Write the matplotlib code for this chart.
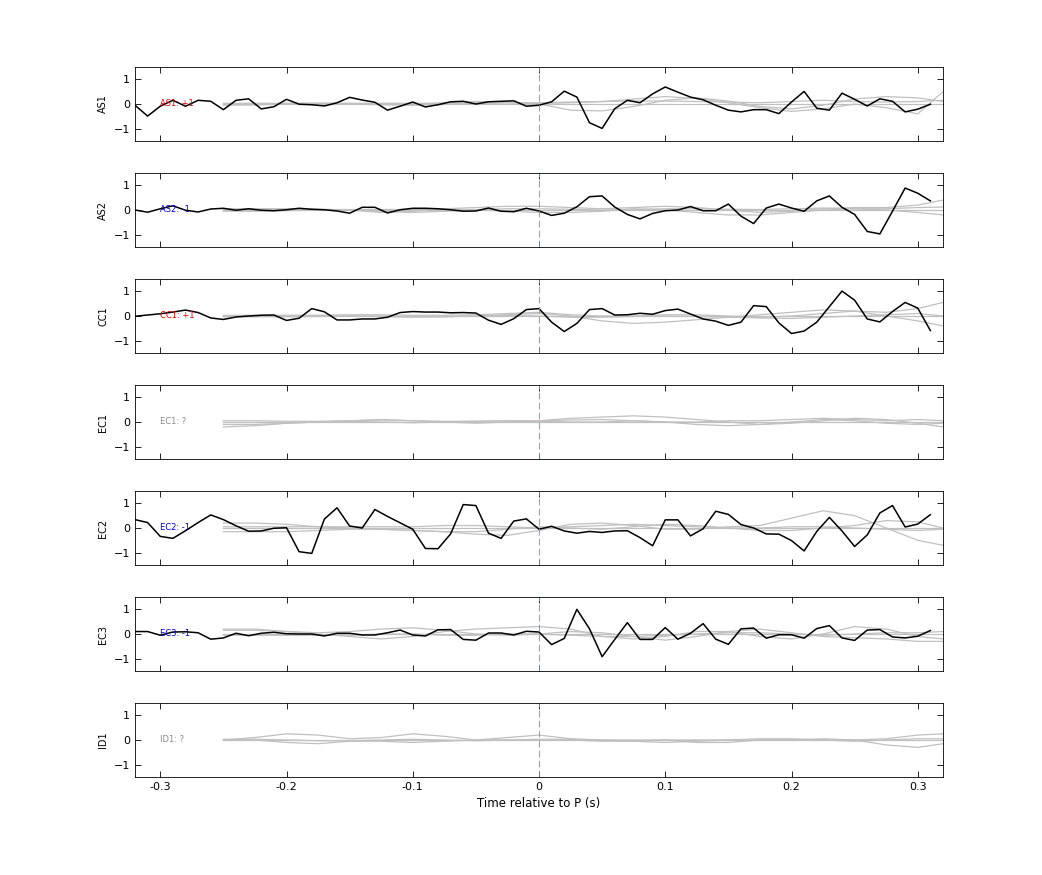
import numpy as np
import matplotlib

matplotlib.use("Agg")
import matplotlib.pyplot as plt

stations = ["AS1", "AS2", "CC1", "EC1", "EC2", "EC3", "ID1"]
polarity = ["+1", "-1", "+1", "?", "-1", "-1", "?"]
label_colors = ["#dd0000", "#0000cc", "#dd0000", "#888888", "#0000cc", "#0000cc", "#888888"]

# black traces, one sample every 0.01 s from -0.32 to 0.31
t_black = np.round(np.arange(-0.32, 0.315, 0.01), 3)
black = {
    "AS1": [-0.05, -0.49, -0.09, 0.15, -0.09, 0.15, 0.11, -0.23, 0.15, 0.21,
            -0.2, -0.11, 0.19, -0.01, -0.03, -0.08, 0.05, 0.27, 0.16, 0.07,
            -0.25, -0.09, 0.08, -0.12, -0.03, 0.09, 0.11, 0.0, 0.09, 0.11,
            0.13, -0.09, -0.05, 0.09, 0.52, 0.28, -0.76, -0.99, -0.19, 0.15,
            0.05, 0.41, 0.69, 0.48, 0.28, 0.17, -0.05, -0.25, -0.32, -0.23,
            -0.23, -0.39, 0.08, 0.51, -0.17, -0.25, 0.44, 0.19, -0.08, 0.21,
            0.11, -0.32, -0.21, -0.01],
    "AS2": [0.0, -0.09, 0.05, 0.17, -0.01, -0.08, 0.04, 0.07, -0.01, 0.05,
            -0.01, -0.03, 0.01, 0.07, 0.03, 0.01, -0.04, -0.13, 0.11, 0.11,
            -0.12, 0.01, 0.07, 0.07, 0.05, 0.01, -0.05, -0.04, 0.08, -0.05,
            -0.07, 0.07, -0.04, -0.22, -0.13, 0.13, 0.54, 0.57, 0.12, -0.18,
            -0.36, -0.14, -0.03, 0.0, 0.14, -0.03, -0.03, 0.24, -0.25, -0.55,
            0.08, 0.24, 0.08, -0.05, 0.37, 0.57, 0.11, -0.18, -0.87, -0.97,
            -0.05, 0.89, 0.68, 0.37],
    "CC1": [-0.01, 0.04, 0.09, 0.16, 0.24, 0.14, -0.08, -0.14, -0.04, 0.0,
            0.03, 0.04, -0.18, -0.09, 0.3, 0.17, -0.16, -0.16, -0.12, -0.12,
            -0.05, 0.14, 0.18, 0.16, 0.16, 0.13, 0.14, 0.12, -0.17, -0.34,
            -0.11, 0.26, 0.3, -0.25, -0.63, -0.3, 0.26, 0.3, 0.04, 0.05,
            0.11, 0.07, 0.22, 0.28, 0.08, -0.12, -0.21, -0.38, -0.25, 0.42,
            0.38, -0.28, -0.71, -0.61, -0.25, 0.38, 1.01, 0.64, -0.12, -0.24,
            0.18, 0.55, 0.32, -0.59],
    "EC2": [0.34, 0.22, -0.34, -0.42, -0.11, 0.22, 0.53, 0.34, 0.09, -0.13,
            -0.12, -0.01, 0.01, -0.96, -1.03, 0.36, 0.82, 0.08, 0.0, 0.75,
            0.47, 0.21, -0.05, -0.83, -0.84, -0.24, 0.95, 0.91, -0.21, -0.42,
            0.28, 0.37, -0.05, 0.07, -0.12, -0.21, -0.14, -0.18, -0.12, -0.11,
            -0.39, -0.72, 0.33, 0.33, -0.32, -0.03, 0.68, 0.55, 0.14, 0.0,
            -0.24, -0.25, -0.51, -0.93, -0.14, 0.43, -0.12, -0.75, -0.28, 0.61,
            0.91, 0.04, 0.16, 0.54],
    "EC3": [0.1, 0.1, -0.05, 0.08, 0.09, 0.05, -0.21, -0.16, 0.03, -0.07,
            0.03, 0.07, 0.01, 0.0, 0.0, -0.08, 0.03, 0.03, -0.04, -0.04,
            0.05, 0.16, -0.04, -0.08, 0.17, 0.18, -0.22, -0.25, 0.04, 0.04,
            -0.04, 0.11, 0.08, -0.43, -0.18, 1.0, 0.21, -0.92, -0.22, 0.46,
            -0.22, -0.22, 0.26, -0.21, 0.03, 0.42, -0.21, -0.42, 0.21, 0.24,
            -0.17, -0.03, -0.03, -0.17, 0.22, 0.34, -0.16, -0.26, 0.16, 0.18,
            -0.12, -0.16, -0.09, 0.14],
}

# gray synthetic traces, sampled every 0.025 s from -0.25 to 0.32
t_gray = [-0.25, -0.225, -0.2, -0.175, -0.15, -0.125, -0.1, -0.075, -0.05, -0.025,
          0.0, 0.025, 0.05, 0.075, 0.1, 0.125, 0.15, 0.175, 0.2, 0.225, 0.25,
          0.275, 0.3, 0.32]
gray = {
    "AS1": [
        [0.0, 0.0, 0.0, 0.0, 0.0, 0.0, 0.0, 0.0, 0.0, 0.0, 0.0, 0.0, 0.0, 0.0, 0.0, 0.0, 0.0, 0.0, 0.0, 0.0, 0.0, 0.0, 0.0, 0.0],
        [0.0, 0.0, 0.02, 0.03, 0.02, 0.0, -0.02, 0.05, 0.1, 0.08, 0.0, -0.25, -0.28, -0.1, 0.15, 0.25, 0.12, -0.1, -0.2, -0.05, 0.2, 0.3, 0.25, 0.1],
        [-0.05, -0.04, 0.0, 0.02, 0.0, -0.03, -0.05, -0.02, 0.03, 0.05, 0.02, 0.05, 0.1, 0.2, 0.3, 0.22, 0.05, -0.15, -0.3, -0.2, 0.0, -0.15, -0.4, 0.5],
        [0.03, 0.03, 0.03, 0.03, 0.03, 0.03, 0.03, 0.03, 0.03, 0.05, 0.05, 0.08, 0.1, 0.12, 0.12, 0.1, 0.08, 0.05, 0.1, 0.15, 0.1, 0.08, 0.1, 0.15],
    ],
    "AS2": [
        [0.0, 0.0, 0.0, 0.0, 0.0, 0.0, 0.0, 0.0, 0.0, 0.0, 0.0, 0.0, 0.0, 0.0, 0.0, 0.0, 0.0, 0.0, 0.0, 0.0, 0.0, 0.0, 0.0, 0.0],
        [0.05, 0.05, 0.05, 0.03, 0.0, -0.1, -0.05, 0.05, 0.1, 0.15, 0.15, 0.1, 0.05, 0.1, 0.15, 0.1, 0.0, -0.1, -0.05, 0.05, 0.1, 0.1, 0.2, 0.4],
        [-0.05, -0.05, -0.03, 0.0, 0.0, -0.05, -0.1, -0.05, 0.0, -0.05, -0.1, -0.1, -0.05, 0.05, 0.0, -0.1, -0.2, -0.2, -0.1, 0.0, 0.05, 0.0, -0.1, -0.2],
        [0.02, 0.02, 0.02, 0.02, 0.02, 0.02, 0.02, 0.02, 0.02, 0.05, 0.05, 0.03, 0.0, 0.02, 0.05, 0.05, 0.03, 0.02, 0.05, 0.08, 0.05, 0.05, 0.1, 0.12],
    ],
    "CC1": [
        [0.0, 0.0, 0.0, 0.0, 0.0, 0.0, 0.0, 0.0, 0.0, 0.0, 0.0, 0.0, 0.0, 0.0, 0.0, 0.0, 0.0, 0.0, 0.0, 0.0, 0.0, 0.0, 0.0, 0.0],
        [-0.02, -0.02, 0.0, 0.02, 0.0, -0.03, -0.05, -0.03, 0.0, 0.05, 0.1, 0.0, -0.2, -0.3, -0.25, -0.15, -0.05, 0.05, 0.15, 0.25, 0.2, 0.0, -0.2, -0.4],
        [0.03, 0.03, 0.03, 0.03, 0.05, 0.05, 0.03, 0.03, 0.05, 0.1, 0.15, 0.05, 0.0, 0.0, 0.05, 0.05, 0.0, -0.05, 0.0, 0.1, 0.2, 0.15, 0.3, 0.55],
        [-0.03, -0.03, -0.03, -0.02, 0.0, 0.0, -0.02, -0.03, 0.0, 0.02, 0.0, -0.05, -0.05, -0.02, 0.0, -0.02, -0.05, -0.08, -0.1, -0.05, 0.0, 0.05, 0.1, 0.0],
    ],
    "EC1": [
        [0.0, 0.0, 0.0, 0.0, 0.0, 0.0, 0.0, 0.0, 0.0, 0.0, 0.0, 0.0, 0.0, 0.0, 0.0, 0.0, 0.0, 0.0, 0.0, 0.0, 0.0, 0.0, 0.0, 0.0],
        [-0.2, -0.15, -0.05, 0.0, 0.05, 0.1, 0.05, 0.0, -0.05, 0.0, 0.05, 0.15, 0.2, 0.25, 0.2, 0.1, 0.0, -0.1, -0.05, 0.05, 0.15, 0.1, -0.05, -0.2],
        [-0.1, -0.1, -0.05, 0.0, 0.03, 0.0, -0.03, 0.0, 0.03, 0.05, 0.03, 0.0, 0.0, 0.05, 0.0, -0.1, -0.15, -0.1, 0.0, 0.1, 0.05, -0.05, -0.1, -0.05],
        [0.05, 0.05, 0.03, 0.03, 0.05, 0.08, 0.05, 0.03, 0.03, 0.05, 0.05, 0.08, 0.1, 0.05, 0.0, 0.0, 0.05, 0.05, 0.1, 0.15, 0.1, 0.05, 0.1, 0.05],
    ],
    "EC2": [
        [0.0, 0.0, 0.0, 0.0, 0.0, 0.0, 0.0, 0.0, 0.0, 0.0, 0.0, 0.0, 0.0, 0.0, 0.0, 0.0, 0.0, 0.0, 0.0, 0.0, 0.0, 0.0, 0.0, 0.0],
        [0.2, 0.2, 0.15, 0.05, 0.0, -0.05, -0.1, -0.15, -0.25, -0.3, -0.1, 0.15, 0.2, 0.1, -0.05, -0.05, 0.05, 0.1, 0.4, 0.7, 0.5, 0.0, -0.5, -0.7],
        [-0.15, -0.15, -0.15, -0.1, -0.05, -0.05, -0.1, -0.15, -0.15, -0.05, 0.05, 0.0, -0.05, 0.05, 0.15, 0.1, 0.0, -0.1, -0.1, 0.0, 0.1, 0.3, 0.25, 0.0],
        [0.05, 0.05, 0.05, 0.05, 0.05, 0.05, 0.05, 0.1, 0.1, 0.05, 0.0, 0.05, 0.1, 0.15, 0.1, 0.05, 0.0, 0.0, 0.05, 0.05, 0.0, -0.05, -0.1, -0.05],
    ],
    "EC3": [
        [0.0, 0.0, 0.0, 0.0, 0.0, 0.0, 0.0, 0.0, 0.0, 0.0, 0.0, 0.0, 0.0, 0.0, 0.0, 0.0, 0.0, 0.0, 0.0, 0.0, 0.0, 0.0, 0.0, 0.0],
        [0.2, 0.2, 0.1, 0.0, -0.1, -0.2, -0.1, 0.1, 0.2, 0.25, 0.3, 0.2, -0.1, -0.2, -0.1, 0.1, 0.1, -0.1, -0.2, 0.0, 0.3, 0.2, -0.1, -0.2],
        [0.15, 0.15, 0.1, 0.05, 0.1, 0.2, 0.25, 0.15, 0.0, -0.05, 0.0, 0.1, 0.05, -0.1, -0.25, -0.1, 0.1, 0.2, 0.05, -0.1, -0.15, -0.2, -0.3, -0.3],
        [-0.05, -0.05, -0.05, -0.05, -0.05, 0.0, 0.0, -0.05, -0.05, 0.0, 0.0, -0.05, -0.1, -0.1, -0.05, 0.0, 0.05, 0.05, 0.0, -0.05, 0.0, 0.05, 0.05, 0.1],
    ],
    "ID1": [
        [0.0, 0.0, 0.0, 0.0, 0.0, 0.0, 0.0, 0.0, 0.0, 0.0, 0.0, 0.0, 0.0, 0.0, 0.0, 0.0, 0.0, 0.0, 0.0, 0.0, 0.0, 0.0, 0.0, 0.0],
        [0.0, 0.1, 0.25, 0.2, 0.05, 0.1, 0.25, 0.15, 0.0, 0.1, 0.2, 0.05, 0.0, 0.0, 0.0, 0.0, 0.0, 0.0, 0.0, 0.0, 0.0, 0.05, 0.2, 0.25],
        [0.0, 0.0, -0.1, -0.15, -0.05, -0.05, -0.1, -0.05, 0.0, 0.0, 0.0, 0.0, -0.05, -0.05, 0.0, -0.1, -0.1, 0.0, 0.0, 0.05, 0.0, -0.2, -0.3, -0.15],
        [0.03, 0.03, 0.0, -0.03, -0.03, 0.0, 0.03, 0.0, -0.03, 0.0, 0.03, 0.03, 0.0, -0.05, -0.1, -0.05, 0.0, 0.05, 0.05, 0.0, -0.05, 0.0, 0.05, 0.05],
    ],
}

fig = plt.figure(figsize=(10.42, 8.75), dpi=100)
W, H = 1042, 875
for i, st in enumerate(stations):
    top = 67 + 106 * i
    ax = fig.add_axes([135 / W, 1 - (top + 74) / H, 808 / W, 74 / H])
    for g in gray[st]:
        ax.plot(t_gray, g, color="#c0c0c0", lw=0.9)
    if st in black:
        ax.plot(t_black, black[st], color="black", lw=1.1)
    ax.axvline(0, color="#d07070", lw=0.6, ls=(0, (8, 4)))
    ax.text(-0.3, 0, f"{st}: {polarity[i]}", color=label_colors[i], fontsize=6,
            va="center", ha="left")
    ax.set_xlim(-0.32, 0.32)
    ax.set_ylim(-1.5, 1.5)
    ax.set_yticks([-1, 0, 1])
    ax.set_xticks([-0.3, -0.2, -0.1, 0, 0.1, 0.2, 0.3])
    ax.set_xticklabels(["-0.3", "-0.2", "-0.1", "0", "0.1", "0.2", "0.3"])
    ax.tick_params(direction="in", top=True, right=True, labelsize=8, length=4, width=0.6)
    for s in ax.spines.values():
        s.set_linewidth(0.6)
    ax.set_ylabel(st, fontsize=7)
    if i < len(stations) - 1:
        ax.tick_params(labelbottom=False)
    else:
        ax.set_xlabel("Time relative to P (s)", fontsize=8.5)

fig.savefig("out.png", dpi=100)
